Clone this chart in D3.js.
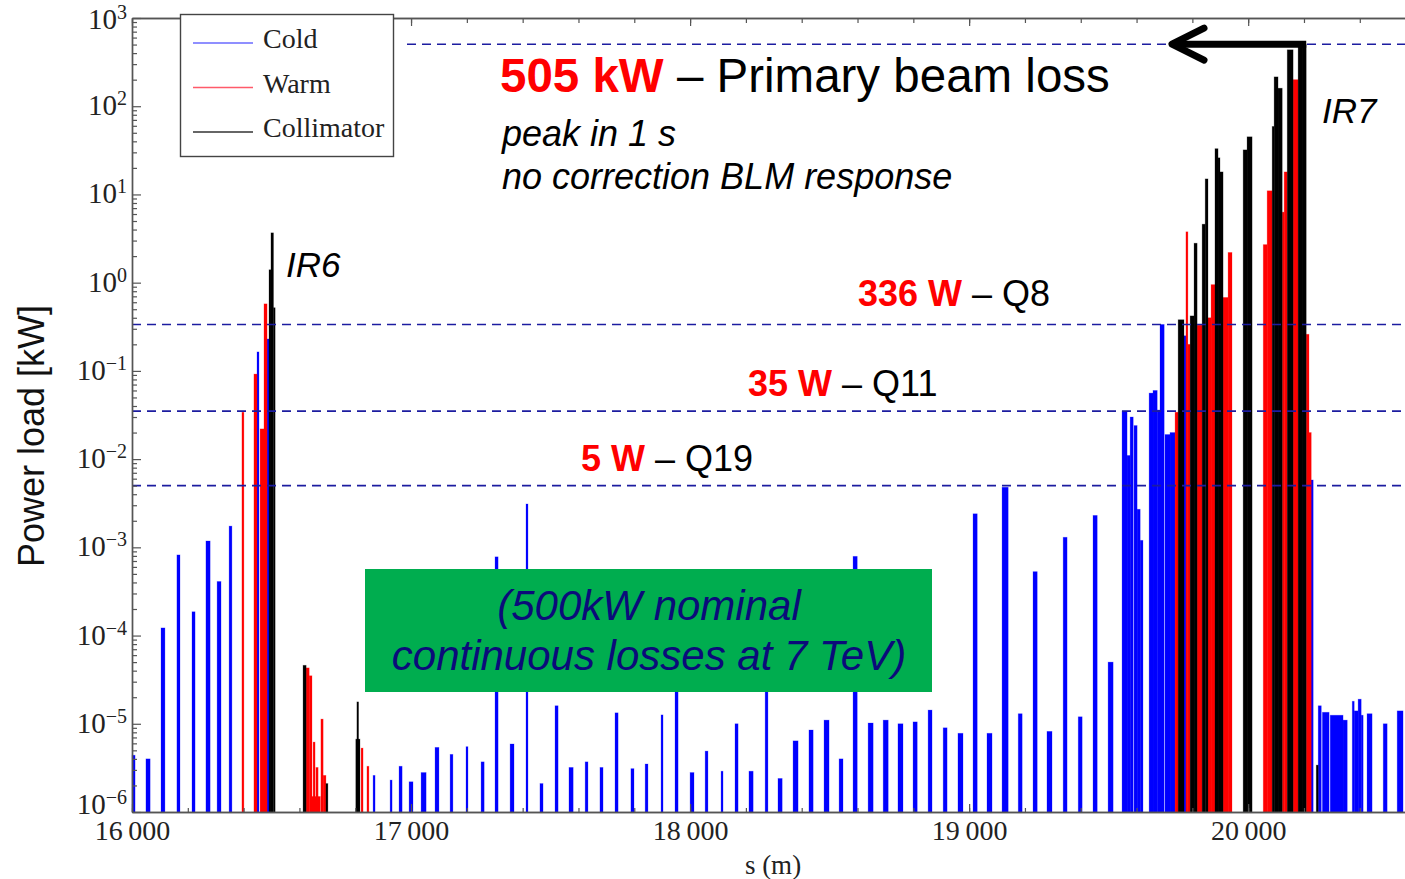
<!DOCTYPE html>
<html>
<head>
<meta charset="utf-8">
<script src="https://cdn.jsdelivr.net/npm/d3@7"></script>
<style>
  body { margin: 0; background: #fff; }
  svg { display: block; }
</style>
</head>
<body>
<svg id="chart" width="1405" height="879"></svg>
<script>
// Power load deposited along the ring, s in metres, load in kW.
// Each entry: [s start (m), s end (m), power load (kW)]
const coldLoss = [
  [16000,16011,4.4e-6],[16050,16065,4.0e-6],[16104,16118,1.22e-4],[16161,16172,8.2e-4],
  [16215,16226,1.86e-4],[16265,16280,1.18e-3],[16305,16319,4.1e-4],[16348,16358,1.74e-3],
  [16448,16455,0.164],[16484,16491,0.23],
  [16864,16871,2.6e-6],[16925,16932,2.3e-6],[16957,16968,3.3e-6],[16993,17007,2.2e-6],
  [17036,17054,2.8e-6],[17086,17100,5.4e-6],[17140,17150,4.5e-6],[17197,17204,5.5e-6],
  [17251,17262,3.7e-6],[17301,17312,7.8e-4],[17355,17369,5.9e-6],[17412,17419,3.1e-3],
  [17462,17473,2.1e-6],[17516,17527,1.6e-5],[17566,17581,3.2e-6],[17624,17634,3.7e-6],
  [17677,17688,3.2e-6],[17731,17742,1.33e-5],[17788,17799,3.1e-6],[17839,17849,3.5e-6],
  [17896,17903,1.26e-5],[17946,17957,2.0e-4],[18000,18014,2.8e-6],[18054,18064,4.9e-6],
  [18111,18118,2.9e-6],[18161,18172,1.0e-5],[18211,18226,2.9e-6],[18269,18279,2.0e-4],
  [18315,18330,2.4e-6],[18369,18387,6.4e-6],[18426,18441,8.5e-6],[18480,18498,1.1e-5],
  [18534,18548,4.0e-6],[18584,18599,7.9e-4],[18638,18656,1.02e-5],[18692,18710,1.1e-5],
  [18745,18763,1.0e-5],[18799,18814,1.05e-5],[18853,18867,1.43e-5],[18907,18921,9.0e-6],
  [18960,18978,7.8e-6],[19014,19029,2.4e-3],[19064,19082,7.8e-6],[19118,19140,4.8e-3],
  [19176,19190,1.3e-5],[19229,19244,5.3e-4],[19279,19297,8.2e-6],[19337,19351,1.3e-3],
  [19391,19405,1.2e-5],[19444,19459,2.3e-3],[19498,19516,5.0e-5],
  [19548,19566,0.035],[19566,19577,0.011],[19577,19588,0.030],[19591,19602,0.024],
  [19602,19613,0.0027],[19613,19623,0.0012],[19645,19659,0.056],[19659,19674,0.060],
  [19674,19684,0.036],[19684,19699,0.336],[19702,19720,0.019],[19720,19738,0.020],
  [19763,19777,0.25],[20218,20233,0.0058],
  [20251,20262,1.6e-5],[20266,20290,1.35e-5],[20294,20340,1.25e-5],[20340,20355,1.1e-5],
  [20373,20380,1.8e-5],[20380,20394,1.4e-5],[20394,20405,1.9e-5],[20405,20412,1.25e-5],
  [20426,20444,1.3e-5],[20484,20498,1.0e-5],[20534,20555,1.4e-5]
];
const warmLoss = [
  [16394,16401,0.034],[16437,16448,0.092],[16459,16473,0.022],[16473,16484,0.575],
  [16624,16635,4.3e-5],[16635,16645,3.5e-5],[16645,16675,1.5e-6],[16649,16656,6.2e-6],
  [16659,16667,3.2e-6],[16677,16685,1.13e-5],[16685,16695,2.6e-6],
  [16821,16828,5.3e-6],[16842,16849,3.3e-6],
  [19738,19749,0.034],[19777,19784,3.77],[19784,19792,0.2],[19817,19835,0.33],
  [19856,19867,0.4],[19867,19881,0.95],[19910,19928,0.68],[19928,19942,2.2],
  [20054,20068,2.7],[20068,20086,11],[20122,20129,6.3],[20129,20140,18],
  [20161,20179,200],[20208,20218,0.26],[20218,20226,0.02]
];
const collimatorLoss = [
  [16491,16498,1.4],[16498,16507,3.67],[16507,16513,0.52],
  [16613,16624,4.6e-5],[16695,16702,2.1e-6],[16802,16817,6.7e-6],[16806,16812,1.77e-5],
  [19749,19770,0.38],[19792,19806,0.42],[19806,19817,2.8],[19835,19846,4.6],
  [19846,19856,15],[19881,19892,33],[19892,19899,26],[19899,19910,18],
  [19982,19996,32],[19996,20014,45],[20086,20093,59],[20093,20107,215],
  [20107,20122,160],[20140,20161,436],[20179,20193,470],[20193,20208,505],
  [20244,20251,3.4e-6]
];

const seriesNames = ["Cold", "Warm", "Collimator"];
const seriesColors = ["#0000ff", "#ff0000", "#000000"];
const legendColors = ["#6a6aff", "#ff5a6a", "#333333"];

const xTicks = [16000, 17000, 18000, 19000, 20000];
const yExponents = [-6, -5, -4, -3, -2, -1, 0, 1, 2, 3];

// Quench / design thresholds (kW) and their labels
const thresholdValues = [505, 0.336, 0.035, 0.005];
const thresholdValueLabels = ["505 kW", "336 W", "35 W", "5 W"];
const thresholdNames = ["Primary beam loss", "Q8", "Q11", "Q19"];

const svg = d3.select("#chart");
const margin = { left: 132, right: 1405, top: 18, bottom: 812 };

const x = d3.scaleLinear().domain([16000, 20562]).range([margin.left, margin.right]);
const y = d3.scaleLog().domain([1e-6, 1e3]).range([margin.bottom, margin.top]);

const serif = "'Liberation Serif','Times New Roman',serif";
const sans = "'Liberation Sans',Arial,sans-serif";
const axisColor = "#555";

// ---- bars ----
const barLayer = svg.append("g");
[coldLoss, warmLoss, collimatorLoss].forEach((data, i) => {
  barLayer.append("g")
    .selectAll("rect")
    .data(data)
    .join("rect")
    .attr("x", d => x(d[0]))
    .attr("width", d => Math.max(1.6, x(d[1]) - x(d[0])))
    .attr("y", d => y(d[2]))
    .attr("height", d => y(1e-6) - y(d[2]))
    .attr("fill", seriesColors[i])
    .attr("stroke", seriesColors[i])
    .attr("stroke-opacity", 0.3)
    .attr("stroke-width", 0.8);
});

// ---- threshold lines ----
const dashColor = "#1c1ca0";
thresholdValues.forEach((v, i) => {
  svg.append("line")
    .attr("x1", i === 0 ? 407 : margin.left)
    .attr("x2", margin.right)
    .attr("y1", y(v)).attr("y2", y(v))
    .attr("stroke", dashColor)
    .attr("stroke-width", 1.6)
    .attr("stroke-dasharray", "9,6");
});

// ---- axes ----
function styleAxis(g) {
  g.select(".domain").attr("stroke", axisColor).attr("stroke-width", 1.4);
  g.selectAll(".tick line").attr("stroke", axisColor).attr("stroke-width", 1.2);
}
const minorX = d3.range(16000, 20562, 200);
svg.append("g").attr("transform", `translate(0,${margin.bottom})`)
  .call(d3.axisBottom(x).tickValues(minorX).tickSizeInner(-4).tickSizeOuter(0).tickFormat(""))
  .call(styleAxis);
svg.append("g").attr("transform", `translate(0,${margin.bottom})`)
  .call(d3.axisBottom(x).tickValues(xTicks).tickSizeInner(-8).tickSizeOuter(0).tickPadding(8)
    .tickFormat(d => d3.format(",")(d).replace(",", "\u2009")))
  .call(styleAxis)
  .call(g => g.selectAll("text").attr("font-family", serif).attr("font-size", 28).attr("fill", "#222"));
svg.append("g").attr("transform", `translate(0,${margin.top})`)
  .call(d3.axisTop(x).tickValues(minorX).tickSizeInner(-5).tickSizeOuter(0).tickFormat(""))
  .call(styleAxis);
svg.append("g").attr("transform", `translate(0,${margin.top})`)
  .call(d3.axisTop(x).tickValues(xTicks).tickSizeInner(-8).tickSizeOuter(0).tickFormat(""))
  .call(styleAxis);

const minorY = [];
yExponents.slice(0, -1).forEach(e => { for (let m = 2; m <= 9; m++) minorY.push(m * Math.pow(10, e)); });
svg.append("g").attr("transform", `translate(${margin.left},0)`)
  .call(d3.axisLeft(y).tickValues(minorY).tickSizeInner(-5).tickSizeOuter(0).tickFormat(""))
  .call(styleAxis);
svg.append("g").attr("transform", `translate(${margin.left},0)`)
  .call(d3.axisLeft(y).tickValues(yExponents.map(e => Math.pow(10, e))).tickSizeInner(-9).tickSizeOuter(0).tickFormat(""))
  .call(styleAxis);

// y tick labels as 10 with superscript exponent
yExponents.forEach(e => {
  const shift = e === -6 ? 2 : (e === 3 ? 11 : 9);
  const t = svg.append("text")
    .attr("x", 127).attr("y", y(Math.pow(10, e)) + shift)
    .attr("text-anchor", "end")
    .attr("font-family", serif).attr("font-size", 29).attr("fill", "#222");
  t.append("tspan").text("10");
  t.append("tspan").attr("dy", -10).attr("font-size", 20)
    .text(e < 0 ? "\u2212" + Math.abs(e) : String(e));
});

// axis titles
svg.append("text")
  .attr("x", 773).attr("y", 874)
  .attr("text-anchor", "middle")
  .attr("font-family", serif).attr("font-size", 27).attr("fill", "#222")
  .text("s (m)");
svg.append("text")
  .attr("transform", "translate(44,436) rotate(-90)")
  .attr("text-anchor", "middle")
  .attr("font-family", sans).attr("font-size", 36).attr("fill", "#111")
  .text("Power load [kW]");

// ---- legend ----
const legend = svg.append("g");
legend.append("rect")
  .attr("x", 180.5).attr("y", 14.5).attr("width", 213).attr("height", 142)
  .attr("fill", "#fff").attr("stroke", "#444").attr("stroke-width", 1.4);
seriesNames.forEach((name, i) => {
  const ly = 43 + i * 44.5;
  legend.append("line")
    .attr("x1", 193).attr("x2", 253).attr("y1", ly).attr("y2", ly)
    .attr("stroke", legendColors[i]).attr("stroke-width", 1.6);
  legend.append("text")
    .attr("x", 263).attr("y", ly + 5)
    .attr("font-family", serif).attr("font-size", 28).attr("fill", "#222")
    .text(name);
});

// ---- annotations ----
function labelPair(xp, yp, size, red, rest) {
  const t = svg.append("text").attr("x", xp).attr("y", yp)
    .attr("font-family", sans).attr("font-size", size);
  t.append("tspan").attr("fill", "#ff0000").attr("font-weight", "bold").text(red);
  t.append("tspan").attr("fill", "#000").text(" \u2013 " + rest);
}
const thresholdLabelPos = [[500, 92, 47.5], [858, 306, 36], [748, 396, 36], [581, 471, 36]];
thresholdValues.forEach((v, i) => {
  const [lx, ly, fs] = thresholdLabelPos[i];
  labelPair(lx, ly, fs, thresholdValueLabels[i], thresholdNames[i]);
});

function italic(txt, xp, yp, size) {
  svg.append("text").attr("x", xp).attr("y", yp)
    .attr("font-family", sans).attr("font-size", size).attr("font-style", "italic")
    .attr("fill", "#000").text(txt);
}
italic("peak in 1 s", 502, 146, 36);
italic("no correction BLM response", 502, 189, 36);
italic("IR6", 286, 277, 35);
italic("IR7", 1322, 123, 35);

// arrow pointing from the IR7 peak back to the threshold label
const arrowY = y(thresholdValues[0]);
const arrow = svg.append("g").attr("stroke", "#000").attr("stroke-width", 7)
  .attr("stroke-linecap", "round").attr("stroke-linejoin", "round").attr("fill", "none");
arrow.append("line").attr("x1", x(20208)).attr("x2", 1172).attr("y1", arrowY).attr("y2", arrowY)
  .attr("stroke-linecap", "butt");
arrow.append("polyline").attr("points", `1204,${arrowY - 16} 1172,${arrowY} 1204,${arrowY + 16}`);

// nominal continuous loss note
svg.append("rect").attr("x", 365).attr("y", 569).attr("width", 567).attr("height", 123)
  .attr("fill", "#00ad4f");
[["(500kW nominal", 620], ["continuous losses at 7 TeV)", 670]].forEach(([t, ty]) => {
  svg.append("text").attr("x", 649).attr("y", ty)
    .attr("text-anchor", "middle")
    .attr("font-family", sans).attr("font-size", 42).attr("font-style", "italic")
    .attr("fill", "#0b0b7a").text(t);
});
</script>
</body>
</html>
